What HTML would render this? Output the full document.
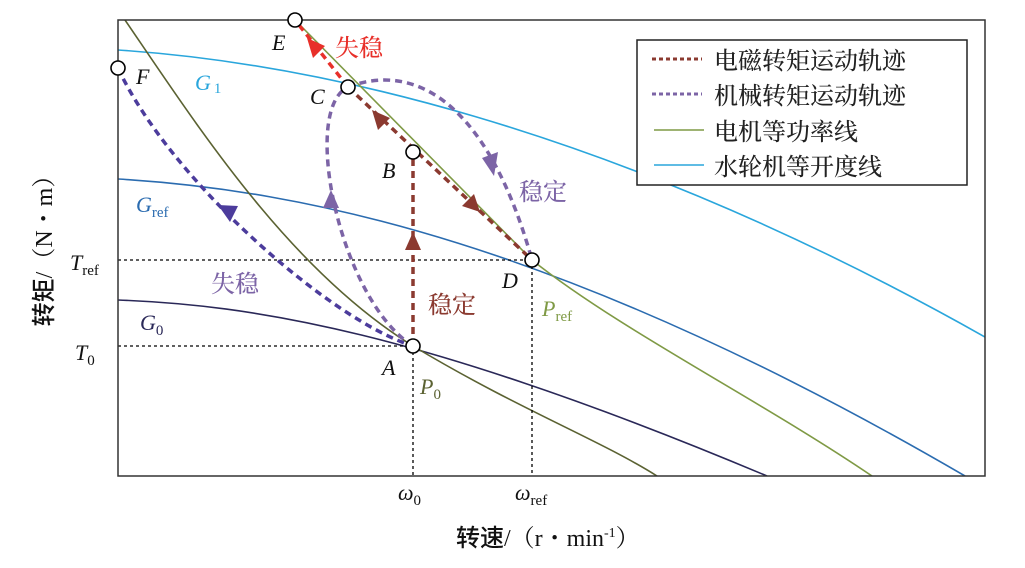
<!DOCTYPE html>
<html><head><meta charset="utf-8"><style>
body{margin:0;background:#fff}
svg{display:block}
text{font-family:"Liberation Serif","Noto Serif CJK SC",serif}
.cj{font-family:"Liberation Sans","Noto Sans CJK SC",sans-serif;font-weight:500}
</style></head><body>
<svg width="1025" height="568" viewBox="0 0 1025 568" xmlns="http://www.w3.org/2000/svg">
<defs>
<clipPath id="c"><rect x="118" y="20" width="867" height="456"/></clipPath>
</defs>
<g clip-path="url(#c)" fill="none" stroke-width="1.6">
<path d="M118,50 C300,62 600,120 985,337" stroke="#2aa6dc"/>
<path d="M118,179 C300,190 560,240 965,476" stroke="#2b6cb0"/>
<path d="M118,300 C250,305 420,330 767,476" stroke="#2a2858"/>
<path d="M125,20 C200,130 290,270 413,346 C520,410 600,440 657,476" stroke="#5b6232"/>
<path d="M295,20 L532,260 C620,330 760,400 872,476" stroke="#7f9a45"/>
</g>
<g fill="none" stroke="#000" stroke-width="1.3" stroke-dasharray="3,3">
<line x1="118" y1="260" x2="532" y2="260"/>
<line x1="118" y1="346" x2="413" y2="346"/>
<line x1="413" y1="346" x2="413" y2="476"/>
<line x1="532" y1="260" x2="532" y2="476"/>
</g>
<path d="M118,20 L118,476 L985,476 L985,20 Z" fill="none" stroke="#333" stroke-width="1.5"/>
<g fill="none" stroke-width="3.5" stroke-dasharray="7,5">
<line x1="413" y1="346" x2="413" y2="152" stroke="#8b3a30"/>
<line x1="348" y1="87" x2="532" y2="260" stroke="#8b3a30"/>
<line x1="348" y1="87" x2="295" y2="20" stroke="#e8302a"/>
<path d="M413,346 C340,300 300,110 348,87" stroke="#7c64a6"/>
<path d="M348,87 C420,60 490,110 532,260" stroke="#7c64a6"/>
<path d="M118,68 C170,180 330,320 413,346" stroke="#4c3c9c"/>
</g>
<g stroke="none">
<polygon points="413,232 405,250 421,250" fill="#8b3a30"/>
<polygon points="372,110 378,130 390,118" fill="#8b3a30"/>
<polygon points="480,212 462,206 474,194" fill="#8b3a30"/>
<polygon points="307,38 313,58 325,46" fill="#e8302a"/>
<polygon points="331,190 323,208 339,208" fill="#7c64a6"/>
<polygon points="494,176 482,158 498,152" fill="#7c64a6"/>
<polygon points="218,205 238,206 230,222" fill="#4c3c9c"/>
</g>
<g fill="#fff" stroke="#000" stroke-width="1.6">
<circle cx="295" cy="20" r="7"/><circle cx="348" cy="87" r="7"/>
<circle cx="413" cy="152" r="7"/><circle cx="532" cy="260" r="7"/>
<circle cx="413" cy="346" r="7"/><circle cx="118" cy="68" r="7"/>
</g>
<g font-size="22" font-style="italic" fill="#111">
<text x="272" y="50">E</text><text x="136" y="84">F</text><text x="310" y="104">C</text>
<text x="382" y="178">B</text><text x="502" y="288">D</text><text x="382" y="375">A</text>
</g>
<text x="195" y="90" font-size="22" font-style="italic" fill="#2aa6dc">G<tspan font-size="15" font-style="normal" dx="3" dy="3">1</tspan></text>
<text x="136" y="212" font-size="22" font-style="italic" fill="#2b6cb0">G<tspan font-size="15" font-style="normal" dy="5">ref</tspan></text>
<text x="140" y="330" font-size="22" font-style="italic" fill="#2a2858">G<tspan font-size="15" font-style="normal" dy="5">0</tspan></text>
<text x="420" y="394" font-size="22" font-style="italic" fill="#5b6232">P<tspan font-size="15" font-style="normal" dy="5">0</tspan></text>
<text x="542" y="316" font-size="22" font-style="italic" fill="#7f9a45">P<tspan font-size="15" font-style="normal" dy="5">ref</tspan></text>
<text x="70" y="270" font-size="22" font-style="italic" fill="#111">T<tspan font-size="15" font-style="normal" dy="5">ref</tspan></text>
<text x="75" y="360" font-size="22" font-style="italic" fill="#111">T<tspan font-size="15" font-style="normal" dy="5">0</tspan></text>
<text x="398" y="500" font-size="22" font-style="italic" fill="#111">ω<tspan font-size="15" font-style="normal" dy="5">0</tspan></text>
<text x="515" y="500" font-size="22" font-style="italic" fill="#111">ω<tspan font-size="15" font-style="normal" dy="5">ref</tspan></text>
<g class="cj" font-size="24">
<text x="335" y="56" fill="#e8302a">失稳</text>
<text x="519" y="200" fill="#7c64a6">稳定</text>
<text x="211" y="292" fill="#7c64a6">失稳</text>
<text x="428" y="313" fill="#8b3a30">稳定</text>
</g>
<text x="456" y="546" font-size="24" fill="#111"><tspan class="cj">转速</tspan>/（r・min<tspan font-size="14" dy="-9">-1</tspan><tspan dy="9">）</tspan></text>
<text transform="translate(52,245) rotate(-90)" text-anchor="middle" font-size="24" fill="#111"><tspan class="cj">转矩</tspan>/（N・m）</text>
<rect x="637" y="40" width="330" height="145" fill="#fff" stroke="#222" stroke-width="1.5"/>
<g stroke-width="3" stroke-dasharray="4,3" fill="none">
<line x1="652" y1="59" x2="702" y2="59" stroke="#8b3a30"/>
<line x1="652" y1="94" x2="702" y2="94" stroke="#7c64a6"/>
</g>
<line x1="654" y1="130" x2="704" y2="130" stroke="#7f9a45" stroke-width="1.5"/>
<line x1="654" y1="165" x2="704" y2="165" stroke="#2aa6dc" stroke-width="1.5"/>
<g class="cj" font-size="24" fill="#222">
<text x="714" y="69">电磁转矩运动轨迹</text>
<text x="714" y="104">机械转矩运动轨迹</text>
<text x="714" y="140">电机等功率线</text>
<text x="714" y="175">水轮机等开度线</text>
</g>
</svg>
</body></html>
